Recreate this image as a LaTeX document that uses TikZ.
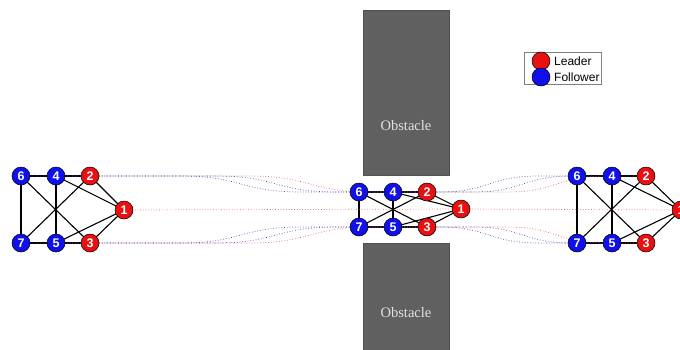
\documentclass[tikz,border=0pt]{standalone}
\usepackage{fontspec}
\setmainfont{Liberation Serif}
\setsansfont{Liberation Sans}
\usetikzlibrary{backgrounds}

\definecolor{leadred}{RGB}{232,16,16}
\definecolor{followblue}{RGB}{16,16,235}
\definecolor{trajred}{RGB}{228,90,90}
\definecolor{trajblue}{RGB}{70,70,200}
\definecolor{obstgray}{RGB}{96,96,96}
\definecolor{obstedge}{RGB}{80,80,80}
\definecolor{obsttext}{RGB}{225,225,225}

\tikzset{
  robot/.style={circle, draw=black, line width=0.5pt, minimum size=18pt, inner sep=0pt,
                text=white, font=\sffamily\bfseries\fontsize{12.5}{12.5}\selectfont},
  leader/.style={robot, fill=leadred},
  follower/.style={robot, fill=followblue},
  link/.style={draw=black, line width=1.1pt},
  pathred/.style={draw=trajred, dotted, line width=0.7pt},
  pathblue/.style={draw=trajblue, dotted, line width=0.7pt},
  obstacle/.style={fill=obstgray, draw=obstedge, line width=0.5pt},
  obstlabel/.style={text=obsttext, font=\rmfamily\fontsize{14.5}{14.5}\selectfont},
  legendtext/.style={anchor=west, inner sep=0pt, font=\sffamily\fontsize{12}{12}\selectfont}
}

\begin{document}
\begin{tikzpicture}[x=1pt, y=-1pt]
  \useasboundingbox (0,0) rectangle (680,349);
  \clip (0,0) rectangle (680,349);

  % obstacles
  \fill[obstacle] (363,10) rectangle (449,175);
  \fill[obstacle] (363,243) rectangle (449,352);
  \node[obstlabel] (obsttop) at (406,126) {Obstacle};
  \node[obstlabel] (obstbot) at (406,313) {Obstacle};

  % start formation
  \node[follower] (L6) at (21,176) {6};
  \node[follower] (L4) at (56,176) {4};
  \node[leader]   (L2) at (90,176) {2};
  \node[leader]   (L1) at (124,210) {1};
  \node[follower] (L7) at (21,243) {7};
  \node[follower] (L5) at (56,243) {5};
  \node[leader]   (L3) at (90,243) {3};
  % formation squeezed between the obstacles
  \node[follower] (M6) at (359,192) {6};
  \node[follower] (M4) at (393,192) {4};
  \node[leader]   (M2) at (427,192) {2};
  \node[leader]   (M1) at (461,209) {1};
  \node[follower] (M7) at (359,227) {7};
  \node[follower] (M5) at (393,227) {5};
  \node[leader]   (M3) at (427,227) {3};
  % goal formation
  \node[follower] (R6) at (577,176) {6};
  \node[follower] (R4) at (612,176) {4};
  \node[leader]   (R2) at (646,176) {2};
  \node[leader]   (R1) at (681,210) {1};
  \node[follower] (R7) at (577,243) {7};
  \node[follower] (R5) at (612,243) {5};
  \node[leader]   (R3) at (646,243) {3};

  \begin{scope}[on background layer]
    % communication links
    \foreach \f in {L,M,R}{
      \foreach \a/\b in {6/4, 4/2, 6/7, 7/5, 5/3, 4/5, 6/3, 7/2, 4/1, 2/1, 5/1, 3/1}{
        \draw[link] (\f\a.center) -- (\f\b.center);
      }
    }
    % trajectories of the outer robots
    \foreach \n/\sx/\mx/\yo/\yi/\st in {
        6/21/359/176/192/pathblue, 4/56/393/176/192/pathblue, 2/90/427/176/192/pathred,
        7/21/359/243/227/pathblue, 5/56/393/243/227/pathblue, 3/90/427/243/227/pathred}{
      \draw[\st] (L\n.center) -- (\sx+160,\yo)
        .. controls (\sx+220,\yo) and (\sx+220,\yi) .. (\sx+280,\yi) -- (M\n.center);
      \draw[\st] (M\n.center) -- (\mx+80,\yi)
        .. controls (\mx+130,\yi) and (\mx+130,\yo) .. (\mx+180,\yo) -- (R\n.center);
    }
    % trajectory of the head robot
    \draw[pathred] (L1.center) -- (M1.center) -- (R1.center);
  \end{scope}

  % legend
  \draw[draw=gray, line width=0.5pt, fill=white] (524,52) rectangle (601,84);
  \node[leader] (keylead) at (541,61) {};
  \node[follower] (keyfoll) at (541,77) {};
  \node[legendtext] (keyleadtext) at (554,61) {Leader};
  \node[legendtext] (keyfolltext) at (554,77) {Follower};
\end{tikzpicture}
\end{document}
